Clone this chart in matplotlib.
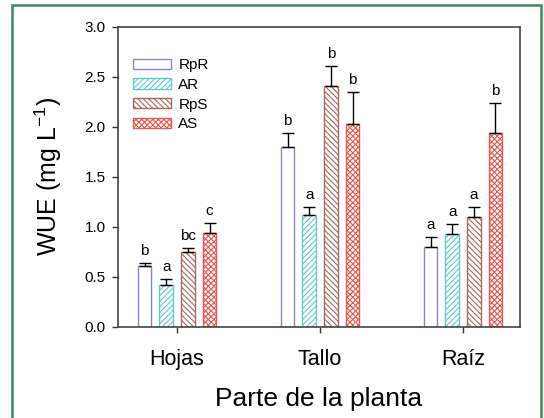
import numpy as np
import matplotlib.pyplot as plt
from matplotlib.patches import Rectangle

plt.rcParams['font.family'] = ['Liberation Sans', 'DejaVu Sans']
plt.rcParams['mathtext.fontset'] = 'custom'
plt.rcParams['mathtext.rm'] = 'Liberation Sans'
plt.rcParams['hatch.linewidth'] = 0.8

parts = ['Hojas', 'Tallo', 'Raíz']
treatments = ['RpR', 'AR', 'RpS', 'AS']

rpr = [0.61, 1.80, 0.80]
ar = [0.42, 1.12, 0.93]
rps = [0.75, 2.41, 1.10]
as_ = [0.94, 2.03, 1.94]

rpr_err = [0.03, 0.14, 0.10]
ar_err = [0.06, 0.08, 0.10]
rps_err = [0.04, 0.20, 0.10]
as_err = [0.10, 0.32, 0.30]

rpr_lab = ['b', 'b', 'a']
ar_lab = ['a', 'a', 'a']
rps_lab = ['bc', 'b', 'a']
as_lab = ['c', 'b', 'b']

values = [rpr, ar, rps, as_]
errors = [rpr_err, ar_err, rps_err, as_err]
letters = [rpr_lab, ar_lab, rps_lab, as_lab]
edges = ['#8686c8', '#62c9cc', '#a8665c', '#e8564f']
hatches = ['', '//////', '\\\\\\\\\\\\', 'xxxxxx']

fig = plt.figure(figsize=(5.44, 4.18), dpi=100)
ax = fig.add_axes([0.217, 0.218, 0.739, 0.718])

x = np.arange(len(parts))
offsets = [-0.227, -0.076, 0.076, 0.227]
w = 0.095

for i in range(4):
    xs = x + offsets[i]
    ax.bar(xs, values[i], w, color='white', edgecolor=edges[i],
           hatch=hatches[i], linewidth=1.0, label=treatments[i], zorder=2)
    ax.errorbar(xs, values[i], yerr=[np.zeros(3), errors[i]], fmt='none',
                ecolor='black', elinewidth=1.0, capsize=4, capthick=1.0, zorder=3)
    for xx, v, e, t in zip(xs, values[i], errors[i], letters[i]):
        ax.text(xx, v + e + 0.05, t, ha='center', va='bottom', fontsize=11)

ax.set_xlim(-0.413, 2.399)
ax.set_ylim(0, 3.0)
ax.set_yticks(np.arange(0, 3.01, 0.5))
ax.set_yticklabels([f'{t:.1f}' for t in np.arange(0, 3.01, 0.5)], fontsize=11)
ax.set_xticks(x)
ax.set_xticklabels(parts, fontsize=15.5)
ax.tick_params(axis='both', direction='out', length=4, width=1.0, color='#333333')
ax.tick_params(axis='x', pad=12)
ax.tick_params(axis='y', pad=5)
for s in ax.spines.values():
    s.set_color('#444444')
    s.set_linewidth(1.2)

ax.set_ylabel('WUE (mg L$^{-1}$)', fontsize=18, labelpad=15)
ax.set_xlabel('Parte de la planta', fontsize=19, labelpad=12)

ax.legend(loc='upper left', bbox_to_anchor=(0.036, 0.895), frameon=False,
          fontsize=11, handlelength=2.5, handleheight=0.65,
          handletextpad=0.5, labelspacing=0.37, borderpad=0, borderaxespad=0)

fig.add_artist(Rectangle((12 / 544, -0.05), (541 - 12) / 544, 1.05 - 5.5 / 418,
                         transform=fig.transFigure, fill=False,
                         edgecolor='#3b8a5c', linewidth=1.8))

fig.savefig('out.png', dpi=100)
